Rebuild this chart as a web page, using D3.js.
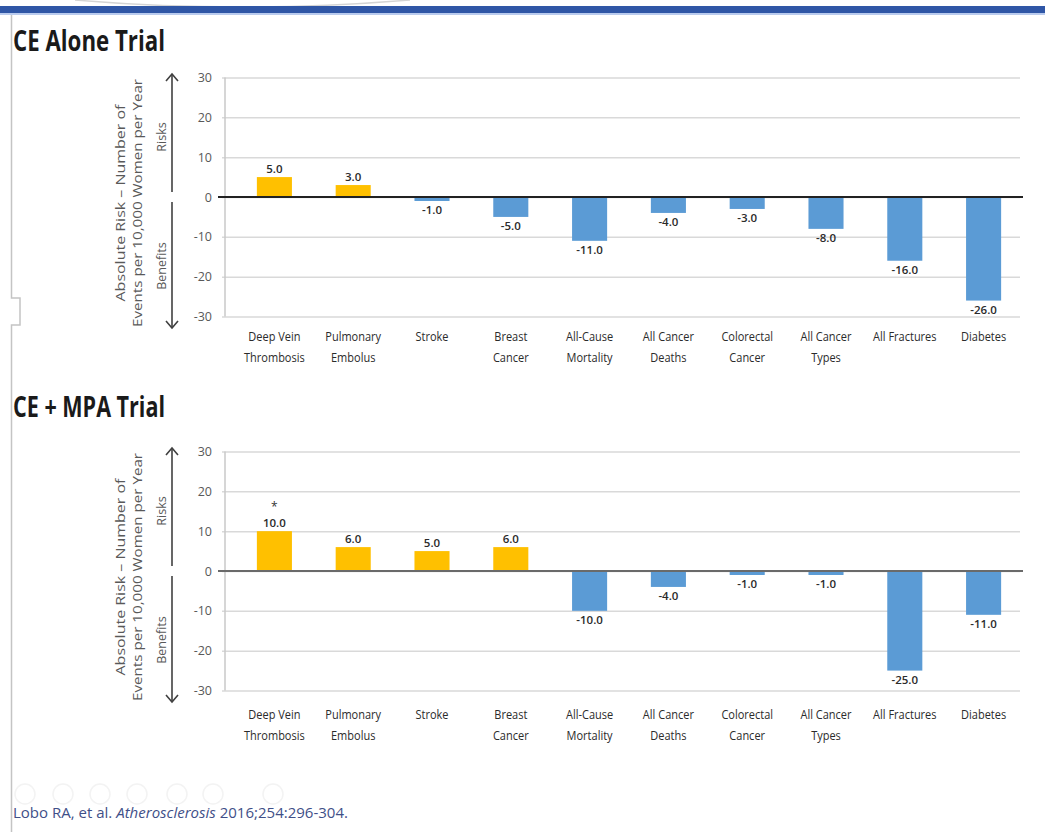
<!DOCTYPE html>
<html>
<head>
<meta charset="utf-8">
<script src="https://cdn.jsdelivr.net/npm/d3@7"></script>
<style>
  html, body { margin: 0; padding: 0; background: #fff; }
  svg { display: block; }
</style>
</head>
<body>
<svg id="chart" width="1045" height="832"></svg>
<script>
// Outcome categories (line breaks marked with "|")
const categories = [
  "Deep Vein|Thrombosis", "Pulmonary|Embolus", "Stroke", "Breast|Cancer",
  "All-Cause|Mortality", "All Cancer|Deaths", "Colorectal|Cancer",
  "All Cancer|Types", "All Fractures", "Diabetes"
];

// Absolute risk, events per 10,000 women per year
const ceAloneValues = [5.0, 3.0, -1.0, -5.0, -11.0, -4.0, -3.0, -8.0, -16.0, -26.0];
const ceMpaValues   = [10.0, 6.0, 5.0, 6.0, -10.0, -4.0, -1.0, -1.0, -25.0, -11.0];

// Category flagged with an asterisk in the CE + MPA trial
const ceMpaStarred = ["Deep Vein|Thrombosis"];

const yTicks = [30, 20, 10, 0, -10, -20, -30];
const yDomain = [-30, 30];

const titles = ["CE Alone Trial", "CE + MPA Trial"];
const yTitleLines = ["Absolute Risk \u2013 Number of", "Events per 10,000 Women per Year"];
const riskLabel = "Risks";
const benefitLabel = "Benefits";

const COLORS = { risk: "#FFC000", benefit: "#5B9BD5" };
const FONT = "'Open Sans', 'Noto Sans', sans-serif";

const locale = d3.formatLocale({ decimal: ".", thousands: ",", grouping: [3], currency: ["$", ""], minus: "-" });
const fmtValue = locale.format(".1f");
const fmtTick = locale.format("d");

const svg = d3.select("#chart");

// ---- Slide frame: header band, left rule ----
svg.append("path")
  .attr("d", "M75,0 Q240,14 410,0")
  .attr("fill", "none").attr("stroke", "#d4d4d4").attr("stroke-width", 1.5);
svg.append("rect").attr("x", 0).attr("y", 6).attr("width", 1045).attr("height", 7).attr("fill", "#2f56a6");
svg.append("rect").attr("x", 0).attr("y", 13).attr("width", 1045).attr("height", 2).attr("fill", "#b9cbee");
svg.append("path")
  .attr("d", "M11.5,15 V298 H20 V325 H11.5 V832")
  .attr("fill", "none").attr("stroke", "#c4c4c4").attr("stroke-width", 1.5);

// Horizontal band scale shared by both panels
const x = d3.scaleBand().domain(categories).range([235, 1023]).padding(0);
const barW = x.bandwidth() * 0.445;

function squish(sel, tx, ty, sx) {
  return sel.attr("transform", `translate(${tx},${ty}) scale(${sx},1)`);
}

function drawPanel(opts) {
  const { title, titleBaseline, zeroY, values, starred, zeroColor, catOffset } = opts;
  const y = d3.scaleLinear().domain(yDomain).range([zeroY + 119.5, zeroY - 119.5]);
  const g = svg.append("g");

  // Panel title
  g.append("text")
    .attr("x", 13).attr("y", titleBaseline)
    .attr("font-family", FONT).attr("font-weight", 700).attr("font-size", 29)
    .attr("fill", "#1a1a1a")
    .attr("textLength", title.length > 14 ? 155 : 152)
    .attr("lengthAdjust", "spacingAndGlyphs")
    .text(title);

  // Gridlines and tick labels
  const axis = d3.axisLeft(y).tickValues(yTicks).tickSize(-(1020 - 222)).tickPadding(10).tickFormat(fmtTick);
  const ag = g.append("g").attr("transform", "translate(222,0)").call(axis);
  ag.select(".domain").remove();
  ag.selectAll(".tick line").attr("stroke", "#d9d9d9").attr("stroke-width", 1.5);
  ag.selectAll(".tick text")
    .attr("font-family", FONT).attr("font-size", 12.5).attr("fill", "#595959")
    .attr("x", -10);

  // Vertical axis line
  g.append("line")
    .attr("x1", 225).attr("x2", 225).attr("y1", y(30)).attr("y2", y(-30))
    .attr("stroke", "#c8c8c8").attr("stroke-width", 1.5);

  // Bars
  g.selectAll("rect.bar").data(categories).join("rect")
    .attr("class", "bar")
    .attr("x", (d) => x(d) + (x.bandwidth() - barW) / 2)
    .attr("width", barW)
    .attr("y", (d, i) => y(Math.max(0, values[i])))
    .attr("height", (d, i) => Math.abs(y(values[i]) - y(0)))
    .attr("fill", (d, i) => values[i] >= 0 ? COLORS.risk : COLORS.benefit);

  // Zero baseline
  g.append("line")
    .attr("x1", 218).attr("x2", 1023).attr("y1", y(0)).attr("y2", y(0))
    .attr("stroke", zeroColor).attr("stroke-width", 2);

  // Value labels
  g.selectAll("text.val").data(categories).join("text")
    .attr("class", "val")
    .attr("x", (d) => x(d) + x.bandwidth() / 2)
    .attr("y", (d, i) => values[i] >= 0 ? y(values[i]) - 4 : y(values[i]) + 13)
    .attr("text-anchor", "middle")
    .attr("font-family", FONT).attr("font-size", 11.5).attr("font-weight", 600).attr("fill", "#2b2b2b")
    .text((d, i) => fmtValue(values[i]));

  // Asterisks
  categories.forEach((c, i) => {
    if (starred.includes(c)) {
      g.append("text")
        .attr("x", x(c) + x.bandwidth() / 2)
        .attr("y", y(values[i]) - 20)
        .attr("text-anchor", "middle")
        .attr("font-family", FONT).attr("font-size", 12).attr("fill", "#333")
        .text("*");
    }
  });

  // Category labels
  categories.forEach((c) => {
    c.split("|").forEach((line, k) => {
      const t = g.append("text")
        .attr("text-anchor", "middle")
        .attr("font-family", FONT).attr("font-size", 12.5).attr("font-weight", 500).attr("fill", "#2b2b2b")
        .text(line);
      squish(t, x(c) + x.bandwidth() / 2, y(-30) + catOffset + k * 20.5, 0.88);
    });
  });

  // Y-axis title (two rotated lines)
  const yMid = zeroY + 6;
  [[124.5, yTitleLines[0], 197], [141.5, yTitleLines[1], 248]].forEach(([tx, txt, len]) => {
    g.append("text")
      .attr("transform", `translate(${tx},${yMid}) rotate(-90)`)
      .attr("text-anchor", "middle")
      .attr("font-family", FONT).attr("font-size", 13.5).attr("fill", "#595959")
      .attr("textLength", len).attr("lengthAdjust", "spacingAndGlyphs")
      .text(txt);
  });
  g.append("text")
    .attr("transform", `translate(165.5,${zeroY - 60}) rotate(-90)`)
    .attr("text-anchor", "middle")
    .attr("font-family", FONT).attr("font-size", 12.5).attr("fill", "#595959")
    .text(riskLabel);
  g.append("text")
    .attr("transform", `translate(165.5,${zeroY + 69}) rotate(-90)`)
    .attr("text-anchor", "middle")
    .attr("font-family", FONT).attr("font-size", 12.5).attr("fill", "#595959")
    .text(benefitLabel);

  // Risk / benefit arrows
  const ax = 172;
  const arrow = (y1, y2, dir) => {
    g.append("line").attr("x1", ax).attr("x2", ax).attr("y1", y1).attr("y2", y2)
      .attr("stroke", "#404040").attr("stroke-width", 1.6);
    g.append("path")
      .attr("d", `M${ax - 6},${y2 - dir * 7} L${ax},${y2} L${ax + 6},${y2 - dir * 7}`)
      .attr("fill", "none").attr("stroke", "#404040").attr("stroke-width", 1.6);
  };
  arrow(zeroY - 5, zeroY - 123, -1);
  arrow(zeroY + 5, zeroY + 131, 1);
}

drawPanel({ title: titles[0], titleBaseline: 51, zeroY: 197, values: ceAloneValues, starred: [], zeroColor: "#222", catOffset: 24.5 });
drawPanel({ title: titles[1], titleBaseline: 417, zeroY: 571, values: ceMpaValues, starred: ceMpaStarred, zeroColor: "#6a6a6a", catOffset: 28.5 });

// Faint slide-control ghosts
[25, 63, 100, 137, 177, 213, 273].forEach((cx) => {
  svg.append("circle").attr("cx", cx).attr("cy", 794).attr("r", 10)
    .attr("fill", "none").attr("stroke", "#f3f3f3").attr("stroke-width", 1.5);
});

// Citation
const cite = svg.append("text")
  .attr("x", 13).attr("y", 818)
  .attr("font-family", FONT).attr("font-size", 14).attr("fill", "#3f4f88")
  .attr("textLength", 335).attr("lengthAdjust", "spacingAndGlyphs");
cite.append("tspan").text("Lobo RA, et al. ");
cite.append("tspan").attr("font-style", "italic").text("Atherosclerosis");
cite.append("tspan").text(" 2016;254:296-304.");
</script>
</body>
</html>
